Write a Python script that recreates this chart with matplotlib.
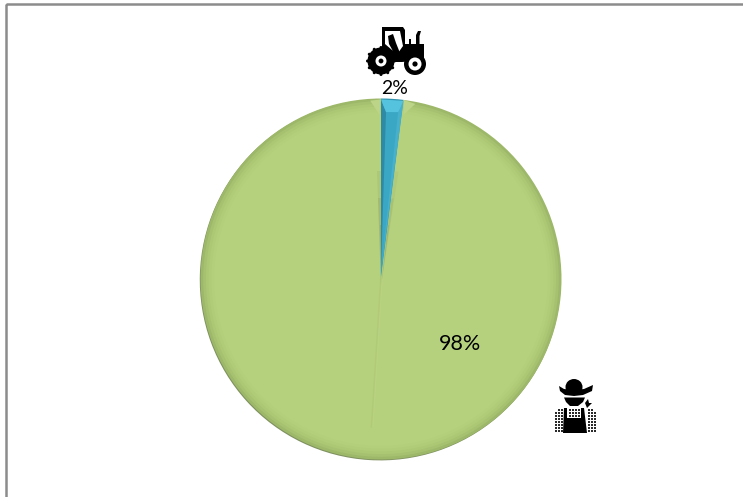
import matplotlib
matplotlib.use('Agg')
import matplotlib.pyplot as plt
from matplotlib.patches import Circle, Polygon, Rectangle, Ellipse, PathPatch
from matplotlib.path import Path
import numpy as np

shares = [2, 98]
labels = ['2%', '98%']
blue_shades = ['#2f93ad', '#45b4d0', '#4dbcd8', '#45b4d0', '#3dabc8', '#3aa8c5']
green_shades = ['#9db869', '#a6c170', '#acc875', '#b0cc79', '#b4cf7c', '#b6d17e']
rim_radii = [1.0, 0.985, 0.97, 0.955, 0.94, 0.925]

W, H = 743, 497
fig = plt.figure(figsize=(W / 100, H / 100), dpi=100, facecolor='white')

# overlay in pixel coordinates for the frame and the icons
bg = fig.add_axes([0, 0, 1, 1])
bg.set_xlim(0, W)
bg.set_ylim(H, 0)
bg.axis('off')
bg.add_patch(Rectangle((6, 3.5), 760, 520, fill=False, ec='#8c8c8c', lw=1.8))

# pie, with a shadow edge and a bevelled rim
cx, cy, r = 381, 279, 180.5
ax = fig.add_axes([(cx - r) / W, 1 - (cy + r) / H, 2 * r / W, 2 * r / H])
ax.pie(shares, startangle=90, counterclock=False, radius=1.0, center=(-0.004, -0.005),
       colors=['#7f9a86', '#7f9160'], wedgeprops={'linewidth': 0})
for i, rad in enumerate(rim_radii):
    ax.pie(shares, startangle=90, counterclock=False, radius=rad,
           colors=[blue_shades[i], green_shades[i]],
           wedgeprops={'linewidth': 0})
ax.set_xlim(-1, 1)
ax.set_ylim(-1, 1)
ax.set_aspect('equal')

# facets of the small slice
ang = 360 * shares[0] / 100
theta = np.deg2rad(90 - ang)
tip = (np.cos(theta), np.sin(theta))
ax.add_patch(Polygon([(0, 0.995), (0, 0.05), (0.028, 0.925)], color='#2f8ba5', lw=0))
ax.add_patch(Polygon([(tip[0], tip[1]), (0, 0.05), (0.095, 0.925)], color='#48b0ca', lw=0))
ax.add_patch(Polygon([(0, 0.995), (tip[0] * 0.995, tip[1] * 0.995), (0.095, 0.925), (0.028, 0.925)],
                     color='#55c2de', lw=0))

# light facets of the large slice beside the small one
ax.add_patch(Polygon([(0, 0.995), (-0.06, 0.988), (-0.008, 0.91)], color='#bcd487', lw=0))
ax.add_patch(Polygon([(tip[0], tip[1]), (0.19, 0.97), (0.125, 0.91)], color='#bcd487', lw=0))

# tapered shadow along both sides of the slice near the centre
for reach, spread, a in zip([0.6, 0.45, 0.3], [0.022, 0.014, 0.007], [0.10, 0.14, 0.22]):
    ax.add_patch(Polygon([(0, -0.04), (0, reach), (-spread, reach)], color='#5e6f46', alpha=a, lw=0))
    ax.add_patch(Polygon([(0, -0.04), (tip[0] * reach, tip[1] * reach),
                          (tip[0] * reach + spread, tip[1] * reach)], color='#5e6f46', alpha=a * 0.7, lw=0))

# faint ridge down the middle of the large slice
mid = np.deg2rad(90 - ang - (360 - ang) / 2)
ridge = np.array([np.cos(mid), np.sin(mid)]) * 0.82
ax.plot([0, ridge[0]], [0, ridge[1]], color='#acc675', lw=1.4, alpha=0.6)
ax.plot([0.006, ridge[0] + 0.006], [0, ridge[1]], color='#bad483', lw=0.9, alpha=0.7)

bg.set_zorder(3)
bg.patch.set_visible(False)
bg.text(395, 88, labels[0], fontsize=14, family='Lato', ha='center', va='center', color='black')
bg.text(460.5, 344, labels[1], fontsize=15.5, family='Lato', ha='center', va='center', color='black')

# tractor
k = 'black'
bg.add_patch(Polygon([(382, 27), (403, 27), (405, 30), (405, 44), (424, 44), (424, 60), (402, 62),
                      (392, 62), (382, 48)], color=k, lw=0))
bg.add_patch(Polygon([(385, 31), (400, 31), (403, 46), (398, 53), (392, 50), (385, 44)], color='white', lw=0))
bg.add_patch(Polygon([(388, 36), (393, 34), (396, 43), (400, 53), (394, 53), (389, 44)], color=k, lw=0))
bg.add_patch(Polygon([(416, 45), (416, 35), (418, 31), (421, 31), (419.5, 36), (419.5, 45)], color=k, lw=0))
bg.add_patch(Rectangle((409, 39), 2, 6, color=k, lw=0))
bg.add_patch(Circle((381, 61), 13.5, color=k, lw=0))
for a in np.deg2rad(np.arange(0, 360, 30)):
    bg.add_patch(Circle((381 + 13.5 * np.cos(a), 61 + 13.5 * np.sin(a)), 1.5, color=k, lw=0))
bg.add_patch(Circle((381, 61), 5.5, color='white', lw=0))
bg.add_patch(Circle((381, 61), 2.4, color=k, lw=0))
bg.add_patch(Circle((415, 64), 11, color=k, lw=0))
bg.add_patch(Circle((415, 64), 6.5, color='white', lw=0))
bg.add_patch(Circle((415, 64), 2.6, color=k, lw=0))

# farmer
brim = [(559, 386), (564, 389), (574, 390), (584, 389), (593, 385), (592, 391), (583, 395),
        (574, 396), (565, 395), (560, 391), (559, 386)]
bg.add_patch(PathPatch(Path(brim), color=k, lw=0))
bg.add_patch(Ellipse((574, 387), 17, 16, color=k, lw=0))
bg.add_patch(Polygon([(564, 397.5), (585, 397.5), (583, 402), (578, 406), (570, 406), (566, 402)], color=k, lw=0))
bg.add_patch(Polygon([(585, 403), (588, 399), (589, 403), (592, 403), (589, 406), (587, 408)], color=k, lw=0))

# checked shirt, overalls and bib
for x in np.arange(555, 595, 3):
    for y in np.arange(409, 433, 3):
        if 563 <= x <= 585:
            continue
        # sloped shoulders
        if y < 412 and (x < 558 or x > 591):
            continue
        bg.add_patch(Rectangle((x, y), 2.4, 2.4, color='#2a2a2a', lw=0))
bg.add_patch(Polygon([(564, 408), (567, 408), (567, 418), (581, 418), (581, 408), (584, 408), (587, 433),
                      (563, 433)], color=k, lw=0))
for x in np.arange(568.5, 580, 3):
    for y in np.arange(409, 416, 3):
        bg.add_patch(Rectangle((x, y), 2.4, 2.4, color='#2a2a2a', lw=0))

fig.savefig('out.png', dpi=100)
